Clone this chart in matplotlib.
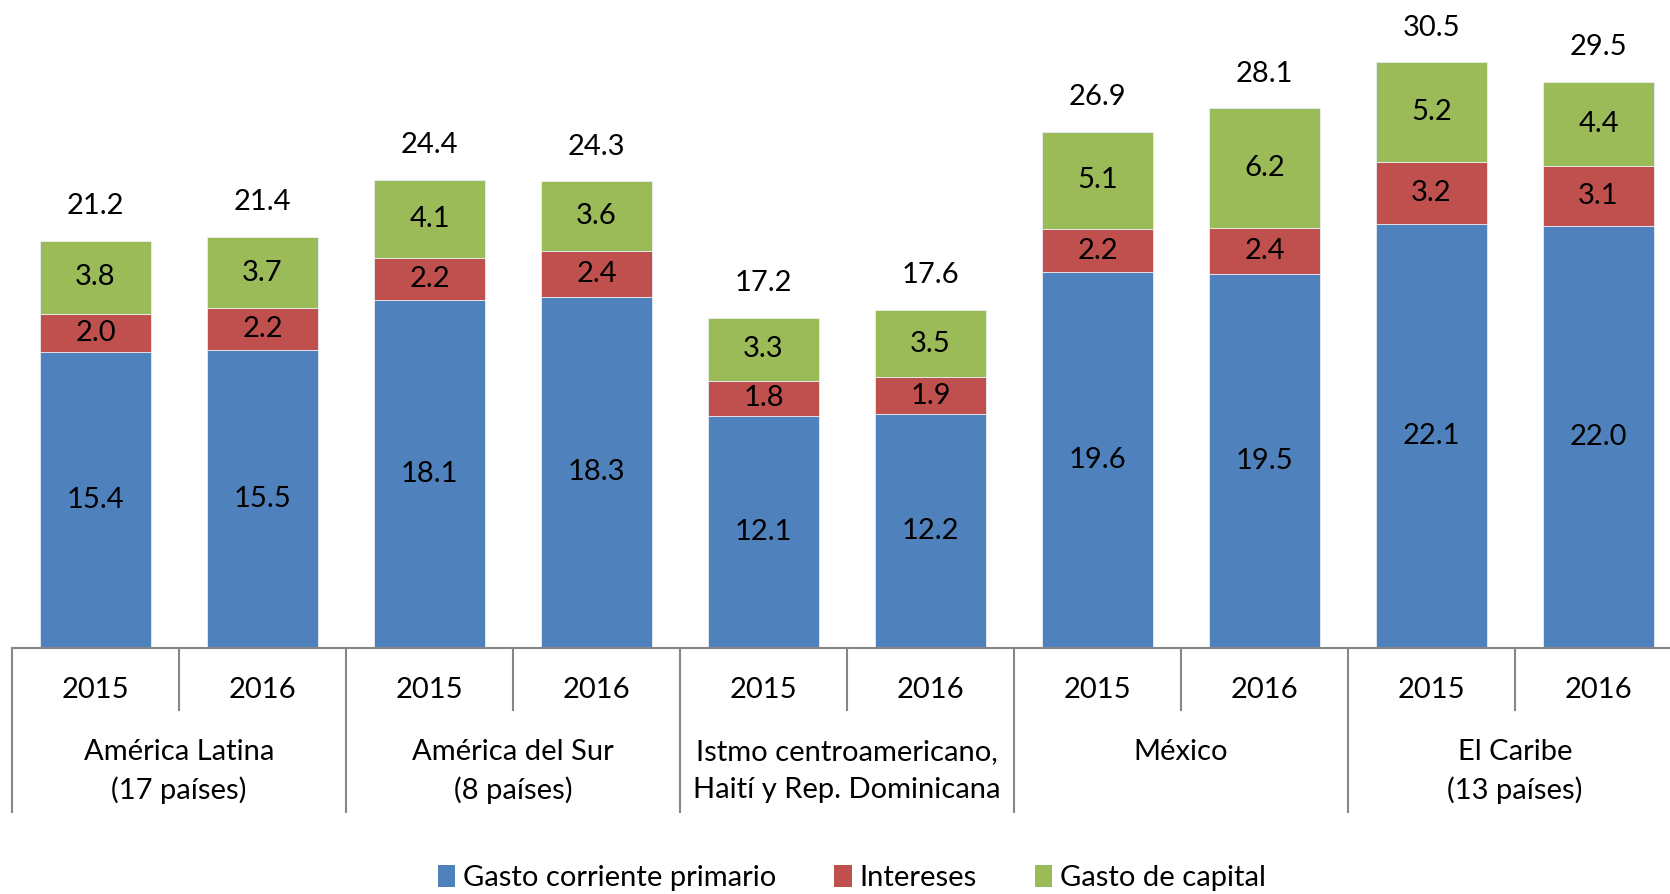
import numpy as np
import matplotlib
matplotlib.use("Agg")
from matplotlib import pyplot as plt
from matplotlib.patches import Patch

plt.rcParams['font.family'] = ['Lato', 'DejaVu Sans']

# Data
groups = ['América Latina\n(17 países)', 'América del Sur\n(8 países)',
          'Istmo centroamericano,\nHaití y Rep. Dominicana', 'México',
          'El Caribe\n(13 países)']
years = ['2015', '2016']
gasto_corriente = [15.4, 15.5, 18.1, 18.3, 12.1, 12.2, 19.6, 19.5, 22.1, 22.0]
intereses = [2.0, 2.2, 2.2, 2.4, 1.8, 1.9, 2.2, 2.4, 3.2, 3.1]
gasto_capital = [3.8, 3.7, 4.1, 3.6, 3.3, 3.5, 5.1, 6.2, 5.2, 4.4]
totales = [21.2, 21.4, 24.4, 24.3, 17.2, 17.6, 26.9, 28.1, 30.5, 29.5]

series = [('Gasto corriente primario', gasto_corriente, '#4F81BD'),
          ('Intereses', intereses, '#C0504D'),
          ('Gasto de capital', gasto_capital, '#9BBB59')]

fs = 21
fig = plt.figure(figsize=(16.7, 8.94), dpi=100)
# axes runs a little past the right edge of the figure, like the original
ax = fig.add_axes([12 / 1670, 1 - 648 / 894, 1.0, 648 / 894])

x = np.arange(len(totales))
bottom = np.zeros(len(totales))
for name, vals, col in series:
    vals = np.array(vals)
    ax.bar(x, vals, width=0.665, bottom=bottom, color=col,
           edgecolor='#e8edf4', linewidth=0.6, label=name)
    for xi, b, v in zip(x, bottom, vals):
        ax.text(xi, b + v / 2, f'{v:.1f}', ha='center', va='center',
                fontsize=fs, color='black')
    bottom = bottom + vals

for xi, t, top in zip(x, totales, bottom):
    ax.annotate(f'{t:.1f}', (xi, top), xytext=(0, 25), textcoords='offset points',
                ha='center', va='center', fontsize=fs)

ax.set_xlim(-0.5, len(totales) - 0.5)
ax.set_ylim(0, 648 / 19.2)
ax.set_xticks([])
ax.set_yticks([])
for s in ['left', 'right', 'top']:
    ax.spines[s].set_visible(False)
ax.spines['bottom'].set_color('#868686')
ax.spines['bottom'].set_linewidth(1.5)

# category axis (positions in axes fraction, axes height = 648 px)
trans = ax.get_xaxis_transform()
for i in range(len(groups) + 1):
    xg = -0.5 + 2 * i
    ax.plot([xg, xg], [0, -0.253], color='#868686', lw=1.5,
            transform=trans, clip_on=False)
for i, g in enumerate(groups):
    ax.plot([2 * i + 0.5, 2 * i + 0.5], [0, -0.0957], color='#868686', lw=1.5,
            transform=trans, clip_on=False)
    for j, yr in enumerate(years):
        ax.text(2 * i + j, -0.065, yr, ha='center', va='center', fontsize=fs,
                transform=trans)
    for k, line in enumerate(g.split('\n')):
        ax.text(2 * i + 0.5, (648 - 752 - 38 * k) / 648, line, ha='center',
                va='center', fontsize=fs, transform=trans)

handles = [Patch(facecolor=c, label=n) for n, v, c in series]
fig.legend(handles=handles, loc='center', bbox_to_anchor=(0.51, 1 - 878 / 894),
           ncol=3, frameon=False, fontsize=fs, handlelength=0.6, handleheight=0.8,
           handletextpad=0.25, columnspacing=2.0)

fig.savefig('out.png', dpi=100)
